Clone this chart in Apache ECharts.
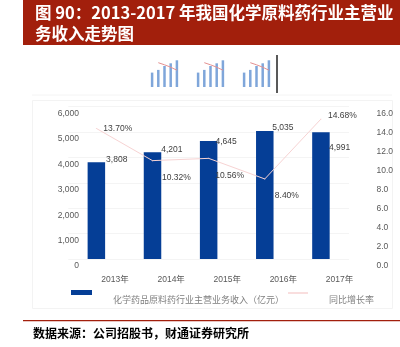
<!DOCTYPE html>
<html>
<head>
<meta charset="utf-8">
<script src="https://cdn.jsdelivr.net/npm/echarts@6/dist/echarts.min.js"></script>
<style>
html,body{margin:0;padding:0;background:#fff;}
#chart{width:400px;height:347px;}
</style>
</head>
<body>
<div id="chart"></div>
<script>
// ---- data ----
const years = ['2013年', '2014年', '2015年', '2016年', '2017年'];
const revenue = [3808, 4201, 4645, 5035, 4991];           // 亿元
const growth = [13.70, 10.32, 10.56, 8.40, 14.68];         // %
const thumbRevenue = [48, 57, 70, 79, 89];                 // small preview images (relative)
const thumbGrowth = [null, 81, 74, 66, 56];
const legendNames = ['化学药品原料药行业主营业务收入（亿元）', '同比增长率'];

// ---- styles ----
const RED = '#A21F0C';
const BLUE = '#053E96';
const PINK = '#F7D3D3';
const FONT = '"Liberation Sans","Noto Sans CJK SC",sans-serif';
const barLabelOffsets = [[1, -3], [0, -3], [-2, 0.5], [-1.3, -3.7], [-0.7, 15.6]];
const lineLabelOffsets = [[6.5, 0], [9, 17], [6, 17.5], [9.5, 17], [6.5, -3]];

const chart = echarts.init(document.getElementById('chart'), null, {renderer: 'canvas'});

const thumbGrids = [0, 1, 2].map(k => ({left: 149 + k * 46, top: 57, width: 31, height: 30}));

const grids = [
  {left: 87, top: 113.5, width: 280.5, height: 152.5},   // axis labels
  {left: 68.3, top: 106.5, width: 280.7, height: 152.5}, // marks
  ...thumbGrids
];

const xAxes = [
  {type: 'category', gridIndex: 0, data: years,
   axisLine: {show: false}, axisTick: {show: false},
   axisLabel: {color: '#595959', fontSize: 8.5, fontFamily: FONT, margin: 9}},
  {type: 'category', gridIndex: 1, data: years, show: false},
  ...[0, 1, 2].map(k => ({type: 'category', gridIndex: 2 + k, data: years, show: false}))
];

const yAxes = [
  {type: 'value', gridIndex: 0, position: 'left', min: 0, max: 6000, interval: 1000,
   axisLine: {show: false}, axisTick: {show: false}, splitLine: {show: false},
   axisLabel: {color: '#595959', fontSize: 8.5, fontFamily: FONT, margin: 8,
     formatter: v => v.toLocaleString('en-US')}},
  {type: 'value', gridIndex: 0, position: 'right', min: 0, max: 16, interval: 2,
   axisLine: {show: false}, axisTick: {show: false}, splitLine: {show: false},
   axisLabel: {color: '#595959', fontSize: 8.5, fontFamily: FONT, margin: 9,
     width: 20, overflow: 'truncate', ellipsis: '',
     formatter: v => v.toFixed(2) + '%'}},
  {type: 'value', gridIndex: 1, position: 'left', min: 0, max: 6000, interval: 1000,
   axisLine: {show: false}, axisTick: {show: false}, axisLabel: {show: false},
   splitLine: {show: true, lineStyle: {color: '#f4f4f4', width: 1}}},
  {type: 'value', gridIndex: 1, position: 'right', min: 0, max: 16, interval: 2, show: false,
   splitLine: {show: false}},
  ...[0, 1, 2].map(k => ({type: 'value', gridIndex: 2 + k, min: 0, max: 100, show: false, splitLine: {show: false}})),
  ...[0, 1, 2].map(k => ({type: 'value', gridIndex: 2 + k, min: 0, max: 100, show: false, position: 'right', splitLine: {show: false}}))
];

const series = [
  {
    name: legendNames[0], type: 'bar', xAxisIndex: 1, yAxisIndex: 2,
    barWidth: 17.5,
    itemStyle: {color: BLUE},
    data: revenue.map((v, i) => ({value: v, label: {offset: barLabelOffsets[i]}})),
    label: {show: true, position: ['100%', 0], align: 'left', verticalAlign: 'middle',
      color: '#404040', fontSize: 8.5, fontFamily: FONT,
      formatter: p => p.value.toLocaleString('en-US')},
    z: 2
  },
  {
    name: legendNames[1], type: 'line', xAxisIndex: 1, yAxisIndex: 3,
    symbol: 'circle', symbolSize: 1, showSymbol: true,
    lineStyle: {color: PINK, width: 1}, itemStyle: {color: PINK},
    data: growth.map((v, i) => ({value: v, label: {offset: lineLabelOffsets[i]}})),
    label: {show: true, position: 'right', distance: 0,
      color: '#404040', fontSize: 8.5, fontFamily: FONT,
      formatter: p => p.value.toFixed(2) + '%'},
    z: 3
  },
  ...[0, 1, 2].map(k => ({
    type: 'bar', xAxisIndex: 2 + k, yAxisIndex: 4 + k, barWidth: 2.5,
    itemStyle: {color: '#7FA6DA'}, data: thumbRevenue, silent: true
  })),
  ...[0, 1, 2].map(k => ({
    type: 'line', xAxisIndex: 2 + k, yAxisIndex: 7 + k, showSymbol: false,
    lineStyle: {color: '#E49090', width: 1}, data: thumbGrowth, silent: true
  }))
];

const graphic = [
  {type: 'rect', shape: {x: 23, y: 0, width: 377, height: 45}, style: {fill: RED}, z: 0},
  {type: 'text', x: 35, y: 13, style: {text: '图 90：2013-2017 年我国化学原料药行业主营业', fill: '#ffffff',
    font: 'bold 16.5px "Noto Sans CJK SC", sans-serif', textVerticalAlign: 'middle'}, z: 1},
  {type: 'text', x: 35, y: 33.5, style: {text: '务收入走势图', fill: '#ffffff',
    font: 'bold 16.5px "Noto Sans CJK SC", sans-serif', textVerticalAlign: 'middle'}, z: 1},
  {type: 'line', shape: {x1: 277, y1: 55, x2: 277, y2: 93}, style: {stroke: '#222', lineWidth: 1.5}},
  {type: 'line', shape: {x1: 32, y1: 95, x2: 392, y2: 95}, style: {stroke: '#f4f4f4', lineWidth: 1}},
  {type: 'rect', shape: {x: 32.5, y: 100.5, width: 360, height: 208}, style: {fill: 'none', stroke: '#f3f3f3', lineWidth: 1}, z: -1},
  {type: 'rect', shape: {x: 71, y: 290, width: 21, height: 5}, style: {fill: BLUE}},
  {type: 'text', x: 113, y: 299.5, style: {text: legendNames[0], fill: '#7f7f7f',
    font: '9px "Noto Sans CJK SC", sans-serif', textVerticalAlign: 'middle'}},
  {type: 'line', shape: {x1: 288, y1: 293, x2: 308, y2: 293}, style: {stroke: PINK, lineWidth: 1.5}},
  {type: 'text', x: 329, y: 299.5, style: {text: legendNames[1], fill: '#7f7f7f',
    font: '9px "Noto Sans CJK SC", sans-serif', textVerticalAlign: 'middle'}},
  {type: 'line', shape: {x1: 23, y1: 320.7, x2: 400, y2: 320.7}, style: {stroke: RED, lineWidth: 1.3}},
  {type: 'text', x: 33, y: 333, style: {text: '数据来源：公司招股书，财通证券研究所', fill: '#000000',
    font: 'bold 12px "Noto Sans CJK SC", sans-serif', textVerticalAlign: 'middle'}}
];

chart.setOption({
  animation: false,
  backgroundColor: '#ffffff',
  grid: grids,
  xAxis: xAxes,
  yAxis: yAxes,
  series: series,
  graphic: graphic
});
</script>
</body>
</html>
